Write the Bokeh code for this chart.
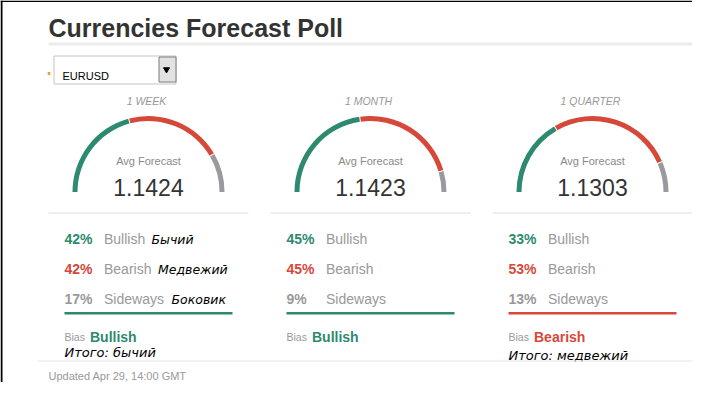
import math
from bokeh.plotting import figure
from bokeh.models import Range1d
from bokeh.core.properties import value
from bokeh.embed import file_html
from bokeh.resources import INLINE

# ---------------- data ----------------
title = "Currencies Forecast Poll"
pair = "EURUSD"
periods = ["1 WEEK", "1 MONTH", "1 QUARTER"]
avg_forecast = [1.1424, 1.1423, 1.1303]
bullish = [42, 45, 33]
bearish = [42, 45, 53]
sideways = [17, 9, 13]
bias = ["Bullish", "Bullish", "Bearish"]
row_labels = ["Bullish", "Bearish", "Sideways"]
row_labels_ru = ["Бычий", "Медвежий", "Боковик"]   # shown in first column only
summary_ru = ["Итого: бычий", "", "Итого: медвежий"]
updated = "Updated Apr 29, 14:00 GMT"

# ---------------- style / layout ----------------
TEAL = "#2d8a70"
RED = "#d6483a"
GREY_ARC = "#9a9a9e"
GREY_TXT = "#999999"
DARK = "#333333"
FONT = "Liberation Sans"
RU_FONT = "DejaVu Sans"

W, H = 692, 382


def Y(py):
    # picture pixel y -> data y (data y grows upward)
    return 398 - py


p = figure(width=W, height=H, x_range=Range1d(0, W), y_range=Range1d(398 - H, 398),
           output_backend="svg", toolbar_location=None, min_border=0,
           x_axis_location=None, y_axis_location=None)
p.grid.visible = False
p.outline_line_color = None
p.background_fill_color = "white"
p.border_fill_color = "white"


def txt(x, y, s, size, color, style="normal", font=FONT, align="left"):
    p.text(x=[x], y=[Y(y)], text=[s], text_font=value(font),
           text_font_size=value(size), text_color=color, text_font_style=style,
           text_align=align, text_baseline="alphabetic")


# frame (left / top edges)
p.quad(left=[0], right=[2], top=[Y(0)], bottom=[Y(398)], fill_color="black", line_color=None)
p.quad(left=[0], right=[W], top=[Y(0)], bottom=[Y(1.5)], fill_color="black", line_color=None)

# title + rule
txt(48, 27, title, "25px", DARK, "bold")
p.quad(left=[48], right=[W], top=[Y(42)], bottom=[Y(45)], fill_color="#ececec", line_color=None)

# dropdown
p.scatter(x=[48.5], y=[Y(73)], size=2, marker="square", color="#f0a030")
p.quad(left=[53.5], right=[175.5], top=[Y(55.5)], bottom=[Y(83.5)],
       fill_color="white", line_color="#c4c4c4", line_width=1)
p.quad(left=[158.5], right=[175.5], top=[Y(56.5)], bottom=[Y(81.5)],
       fill_color="#e2e2e2", line_color="#7c7c7c", line_width=1)
p.scatter(x=[166], y=[Y(69)], size=6, marker="inverted_triangle", color="black")
txt(62, 75.5, pair, "11px", "black")

COL_W, COL_GAP, COL0 = 200, 22, 48
GAP_DEG = 0.8

xs, ys, starts, ends, cols = [], [], [], [], []
for i in range(3):
    left = COL0 + i * (COL_W + COL_GAP)
    cx = left + COL_W / 2

    # period label
    txt(cx - 2, 100.5, periods[i], "10.5px", GREY_TXT, "italic", align="center")

    # gauge
    vals = [bullish[i], bearish[i], sideways[i]]
    colors = [TEAL, RED, GREY_ARC]
    tot = sum(vals)
    cum = 0
    for k, v in enumerate(vals):
        hi = 180 - cum / tot * 180
        lo = 180 - (cum + v) / tot * 180
        if k > 0:
            hi -= GAP_DEG / 2
        if k < len(vals) - 1:
            lo += GAP_DEG / 2
        xs.append(cx)
        ys.append(Y(191.5))
        starts.append(math.radians(lo))
        ends.append(math.radians(hi))
        cols.append(colors[k])
        cum += v

    txt(cx, 160.5, "Avg Forecast", "11px", "#8a8a8a", align="center")
    txt(cx, 186.7, f"{avg_forecast[i]:.4f}", "23px", DARK, align="center")

    # separator
    p.segment(x0=[left], x1=[left + COL_W], y0=[Y(212.5)], y1=[Y(212.5)],
              line_color="#dddddd", line_width=1)

    # rows
    pcts = [bullish[i], bearish[i], sideways[i]]
    pct_cols = [TEAL, RED, GREY_TXT]
    ru_off = [47.5, 54, 67.5]
    for r in range(3):
        by = 238.5 + r * 30
        txt(left + 16, by, f"{pcts[r]}%", "14px", pct_cols[r], "bold")
        txt(left + 55.5, by, row_labels[r], "14px", GREY_TXT)
        if i == 0:
            txt(left + 55.5 + ru_off[r], by, row_labels_ru[r], "12.5px", "black", "italic", font=RU_FONT)

    bcol = TEAL if bias[i] == "Bullish" else RED
    p.quad(left=[left + 16], right=[left + 184], top=[Y(311.5)], bottom=[Y(314)],
           fill_color=bcol, line_color=None)
    txt(left + 16, 336.5, "Bias", "10.5px", GREY_TXT)
    txt(left + 41.5, 336.5, bias[i], "14px", bcol, "bold")
    if summary_ru[i]:
        sy = 352 if i == 0 else 354.5
        txt(left + 16, sy, summary_ru[i], "13px", "black", "italic", font=RU_FONT)

p.annular_wedge(x=xs, y=ys, inner_radius=71, outer_radius=76, start_angle=starts,
                end_angle=ends, direction="anticlock",
                fill_color=cols, line_color=None)

# footer
p.segment(x0=[37], x1=[W], y0=[Y(360.5)], y1=[Y(360.5)], line_color="#e6e6e6", line_width=1)
txt(48, 375.5, updated, "11px", GREY_TXT)

open("out.html", "w").write(file_html(p, INLINE))
